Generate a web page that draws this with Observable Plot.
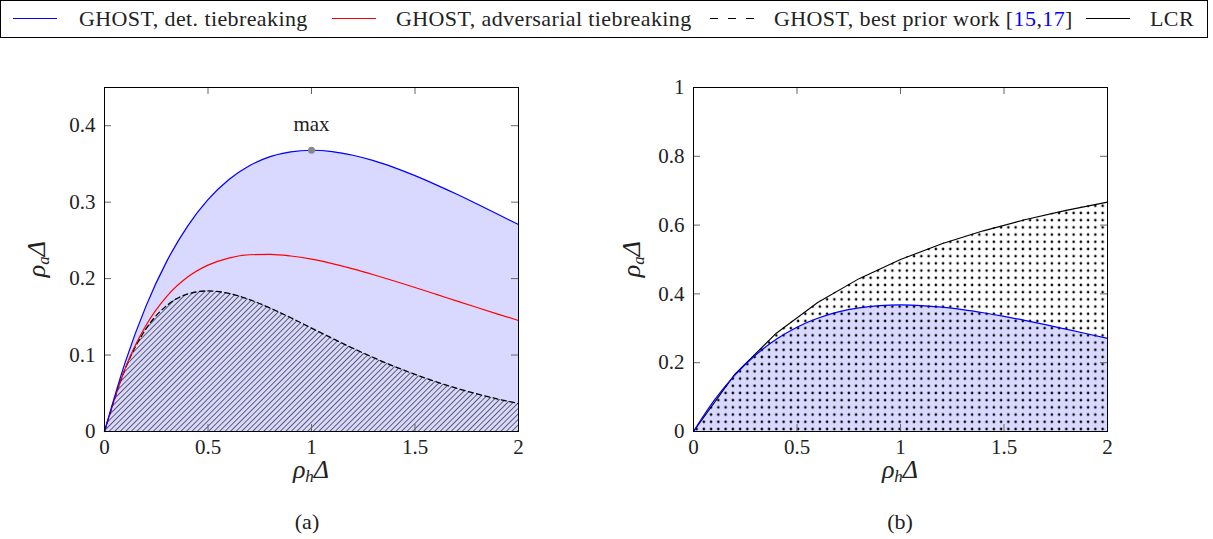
<!DOCTYPE html>
<html>
<head>
<meta charset="utf-8">
<script src="https://cdn.jsdelivr.net/npm/d3@7"></script>
<script src="https://cdn.jsdelivr.net/npm/@observablehq/plot@0.6"></script>
<style>
  html, body { margin: 0; padding: 0; background: #fff; }
  #root { position: relative; width: 1213px; height: 539px; overflow: hidden; font-family: "Liberation Serif", serif; color: #222; }
  #legend { position: absolute; left: 0; top: 0; width: 1208px; height: 38px; box-sizing: border-box; border: 1px solid #000; }
  .li { position: absolute; top: 6px; font-size: 22px; letter-spacing: 0.4px; line-height: 24px; white-space: nowrap; }
  .ls { position: absolute; top: 12px; }
  .panel { position: absolute; top: 60px; }
  .lab { position: absolute; font-size: 26px; font-style: italic; white-space: nowrap; transform: translate(-50%, -50%); }
  .lab sub { font-size: 17px; vertical-align: -4px; }
  .cap { position: absolute; font-size: 22px; transform: translate(-50%, -50%); white-space: nowrap; }
</style>
</head>
<body>
<div id="root">
  <div id="legend"></div>
</div>
<script>
// ---- data ----
const xs        = [0, 0.1, 0.2, 0.3, 0.4, 0.5, 0.6, 0.7, 0.8, 0.9, 1.0, 1.1, 1.2, 1.3, 1.4, 1.5, 1.6, 1.7, 1.8, 1.9, 2.0];
const ghostDet  = [0, 0.0905, 0.1637, 0.2222, 0.2681, 0.3033, 0.3293, 0.3476, 0.3595, 0.3659, 0.3679, 0.3662, 0.3614, 0.3543, 0.3452, 0.3347, 0.3230, 0.3106, 0.2975, 0.2842, 0.2707];
const ghostAdv  = [0, 0.0826, 0.1386, 0.1765, 0.2017, 0.2176, 0.2269, 0.2312, 0.2318, 0.2296, 0.2254, 0.2196, 0.2128, 0.2051, 0.1969, 0.1884, 0.1797, 0.1709, 0.1622, 0.1536, 0.1452];
const ghostPrior= [0, 0.0819, 0.1341, 0.1646, 0.1797, 0.1839, 0.1807, 0.1726, 0.1615, 0.1488, 0.1353, 0.1219, 0.1089, 0.0966, 0.0851, 0.0747, 0.0652, 0.0567, 0.0492, 0.0425, 0.0366];
const lcrXs     = [0, 0.2, 0.4, 0.6, 0.8, 1.0, 1.2, 1.4, 1.6, 1.8, 2.0];
const lcrVals   = [0, 0.1667, 0.2857, 0.3750, 0.4444, 0.5000, 0.5455, 0.5833, 0.6154, 0.6429, 0.6667];
const xTicks    = [0, 0.5, 1, 1.5, 2];
const yTicksA   = [0, 0.1, 0.2, 0.3, 0.4];
const yTicksB   = [0, 0.2, 0.4, 0.6, 0.8, 1];
const maxPoint  = [{x: 1, y: 0.3679, label: "max"}];
const legendItems = [
  {label: "GHOST, det. tiebreaking", color: "#0000ff", dash: null},
  {label: "GHOST, adversarial tiebreaking", color: "#ff0000", dash: null},
  {label: "GHOST, best prior work ", cite: ["15", "17"], color: "#000", dash: "8,10"},
  {label: "LCR", color: "#000", dash: null}
];

// ---- tables ----
const ghost = xs.map((x, i) => ({x, det: ghostDet[i], adv: ghostAdv[i], prior: ghostPrior[i]}));
const lcr = lcrXs.map((x, i) => ({x, y: lcrVals[i]}));

const BLUE = "#0000ff", RED = "#ff0000", FILL = "#d9d9ff", TICK = "#666";
const W = 600, H = 430, MT = 27, MB = 59;
const plotW = 414, plotH = 344, TL = 7;

function ticksAndFrame(yTicks) {
  return [
    Plot.tickY(yTicks, {y: d => d, insetRight: plotW - TL, stroke: TICK}),
    Plot.tickY(yTicks, {y: d => d, insetLeft: plotW - TL, stroke: TICK}),
    Plot.tickX(xTicks, {x: d => d, insetTop: plotH - TL, stroke: TICK}),
    Plot.tickX(xTicks, {x: d => d, insetBottom: plotH - TL, stroke: TICK}),
    Plot.axisX(xTicks, {tickSize: 0, tickPadding: 8, tickFormat: d => String(d), label: null, fontSize: 21, fill: "#222"}),
    Plot.axisY(yTicks, {tickSize: 0, tickPadding: 9, tickFormat: d => String(d), label: null, fontSize: 21, fill: "#222"}),
    Plot.frame({stroke: "#000", strokeWidth: 1})
  ];
}

const common = {
  width: W, height: H, marginTop: MT, marginBottom: MB,
  style: {fontFamily: "Liberation Serif, serif", fontSize: "21px", background: "transparent", overflow: "visible"}
};

const plotA = Plot.plot({
  ...common, marginLeft: 104, marginRight: W - 104 - plotW,
  x: {domain: [0, 2], axis: null},
  y: {domain: [0, 0.45], axis: null},
  marks: [
    Plot.areaY(ghost, {x: "x", y: "det", fill: FILL, curve: "monotone-x"}),
    Plot.areaY(ghost, {x: "x", y: "prior", fill: "url(#hatchA)", curve: "monotone-x"}),
    Plot.line(ghost, {x: "x", y: "prior", stroke: "#000", strokeWidth: 1.3, strokeDasharray: "5,3.5", curve: "monotone-x"}),
    Plot.line(ghost, {x: "x", y: "adv", stroke: RED, strokeWidth: 1.2, curve: "monotone-x"}),
    Plot.line(ghost, {x: "x", y: "det", stroke: BLUE, strokeWidth: 1.2, curve: "monotone-x"}),
    Plot.dot(maxPoint, {x: "x", y: "y", r: 3.5, fill: "#888", stroke: "none"}),
    Plot.text(maxPoint, {x: "x", y: "y", text: "label", dy: -26, fontSize: 21, fill: "#222"}),
    ...ticksAndFrame(yTicksA)
  ]
});

const plotB = Plot.plot({
  ...common, width: 613, marginLeft: 93, marginRight: 613 - 93 - plotW,
  x: {domain: [0, 2], axis: null},
  y: {domain: [0, 1], axis: null},
  marks: [
    Plot.areaY(ghost, {x: "x", y: "det", fill: FILL, curve: "monotone-x"}),
    Plot.areaY(lcr, {x: "x", y: "y", fill: "url(#dotsB)"}),
    Plot.line(lcr, {x: "x", y: "y", stroke: "#000", strokeWidth: 1.1}),
    Plot.line(ghost, {x: "x", y: "det", stroke: BLUE, strokeWidth: 1.2, curve: "monotone-x"}),
    ...ticksAndFrame(yTicksB)
  ]
});

const NS = "http://www.w3.org/2000/svg";
function addDefs(svg, html) {
  const defs = document.createElementNS(NS, "defs");
  defs.innerHTML = html;
  svg.insertBefore(defs, svg.firstChild);
}
addDefs(plotA, `<pattern id="hatchA" patternUnits="userSpaceOnUse" width="3.9" height="3.9" patternTransform="rotate(45)">
  <line x1="0" y1="-1" x2="0" y2="5" stroke="#000" stroke-width="1.15"/></pattern>`);
addDefs(plotB, `<pattern id="dotsB" patternUnits="userSpaceOnUse" x="93" y="27" width="7.25" height="7.2">
  <circle cx="3.6" cy="3.6" r="1.3" fill="#000"/></pattern>`);

const root = document.getElementById("root");
plotA.classList.add("panel"); plotA.style.left = "0px"; plotA.style.top = "60px"; plotA.style.position = "absolute";
plotB.classList.add("panel"); plotB.style.left = "600px"; plotB.style.top = "60px"; plotB.style.position = "absolute";
root.appendChild(plotA);
root.appendChild(plotB);

// ---- axis labels and captions ----
function addDiv(cls, html, x, y, rot) {
  const d = document.createElement("div");
  d.className = cls;
  d.innerHTML = html;
  d.style.left = x + "px";
  d.style.top = y + "px";
  if (rot) d.style.transform = "translate(-50%, -50%) rotate(-90deg)";
  root.appendChild(d);
}
const yLab = "ρ<sub>a</sub>Δ", xLab = "ρ<sub>h</sub>Δ";
addDiv("lab", yLab, 38, 259, true);
addDiv("lab", yLab, 633, 259, true);
addDiv("lab", xLab, 311, 471, false);
addDiv("lab", xLab, 900, 471, false);
addDiv("cap", "(a)", 307, 522, false);
addDiv("cap", "(b)", 900, 522, false);

// ---- legend ----
const legend = document.getElementById("legend");
const sampleX = [12, 331, 709, 1085];
const textX = [78, 395, 773, 1149];
legendItems.forEach((it, i) => {
  const s = document.createElementNS(NS, "svg");
  s.setAttribute("width", 46); s.setAttribute("height", 12);
  s.setAttribute("class", "ls");
  s.style.left = sampleX[i] + "px";
  const ln = document.createElementNS(NS, "line");
  ln.setAttribute("x1", 0); ln.setAttribute("x2", 44);
  ln.setAttribute("y1", 5.5); ln.setAttribute("y2", 5.5);
  ln.setAttribute("stroke", it.color); ln.setAttribute("stroke-width", 1.2);
  if (it.dash) ln.setAttribute("stroke-dasharray", it.dash);
  s.appendChild(ln);
  legend.appendChild(s);
  const t = document.createElement("span");
  t.className = "li";
  t.style.left = textX[i] + "px";
  let html = it.label;
  if (it.cite) html += "[" + it.cite.map(c => `<span style="color:#0000ff">${c}</span>`).join(",") + "]";
  t.innerHTML = html;
  legend.appendChild(t);
});
</script>
</body>
</html>
